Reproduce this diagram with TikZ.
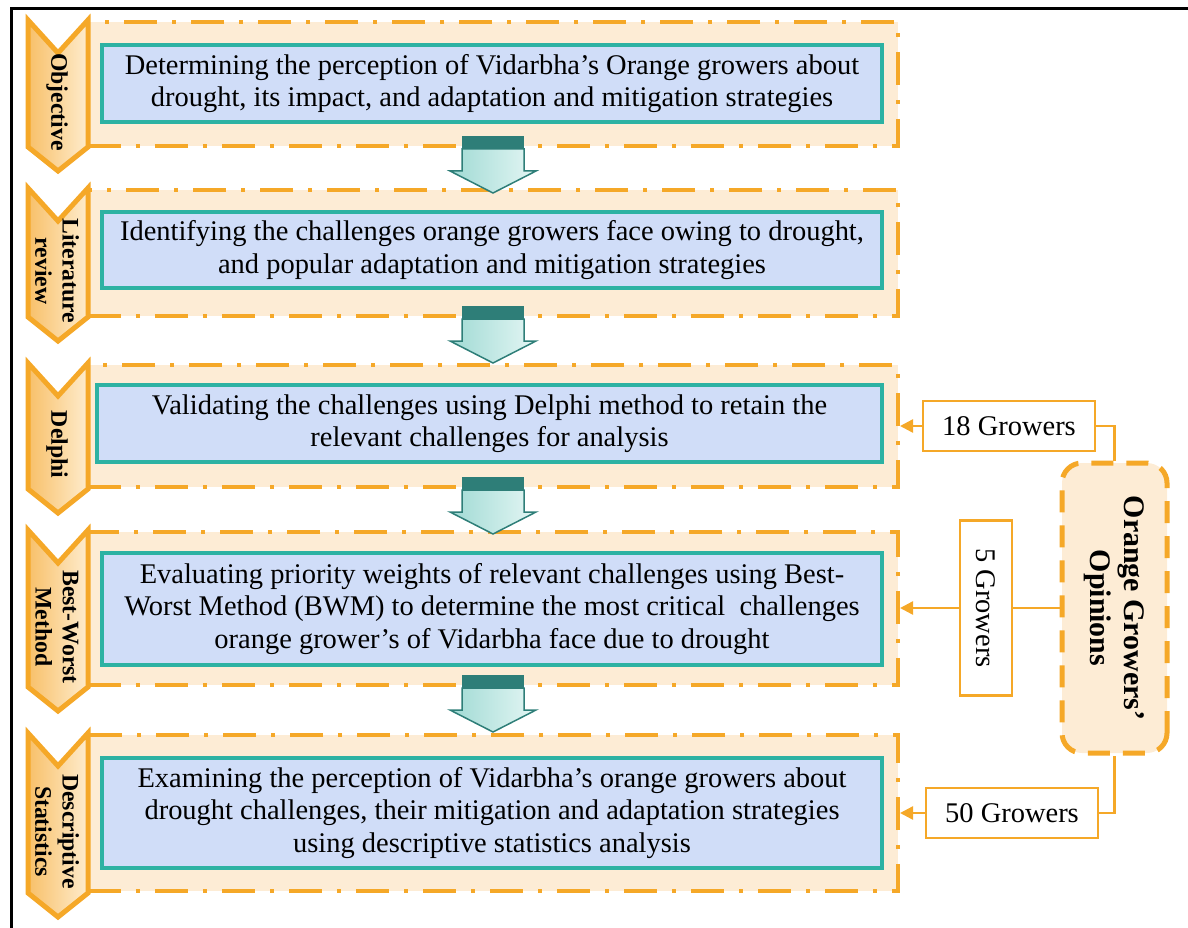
\documentclass[tikz,border=0pt]{standalone}
\usepackage{fontspec}
\setmainfont{Liberation Serif}
\usetikzlibrary{arrows.meta,calc,positioning}

\definecolor{orngline}{RGB}{245,168,40}
\definecolor{bandfill}{RGB}{253,236,213}
\definecolor{taskfill}{RGB}{208,221,248}
\definecolor{tealline}{RGB}{45,178,163}
\definecolor{tealdark}{RGB}{46,126,120}
\definecolor{teallight}{RGB}{160,218,212}
\definecolor{tealpale}{RGB}{228,246,244}
\definecolor{chevdark}{RGB}{248,192,105}
\definecolor{chevlight}{RGB}{254,236,205}

\begin{document}
\begin{tikzpicture}[x=0.2mm,y=-0.2mm,
    band/.style={draw=orngline,line width=0.8mm,dash pattern=on 6.6mm off 3mm on 0.8mm off 3mm,fill=bandfill},
    taskbox/.style={draw=tealline,line width=0.9mm,fill=taskfill,align=center,inner sep=1mm,
      minimum width=156mm,font=\fontsize{16.2}{18.4}\selectfont},
    stagetag/.style={draw=orngline,line width=1mm,line join=miter,left color=chevdark,right color=chevlight},
    taglabel/.style={rotate=-90,align=center,font=\bfseries\fontsize{13.5}{15.5}\selectfont},
    downbody/.style={draw=tealdark,line width=0.3mm,left color=teallight,right color=tealpale},
    downtop/.style={fill=tealdark},
    grower/.style={draw=orngline,line width=0.45mm,fill=white,inner sep=0,font=\fontsize{16.2}{18}\selectfont},
    opbox/.style={draw=orngline,line width=1mm,dash pattern=on 4.4mm off 2.6mm,fill=bandfill,
      rounded corners=4mm,rotate=-90,align=center,font=\bfseries\fontsize{17}{19.5}\selectfont},
    link/.style={draw=orngline,line width=0.5mm},
    feed/.style={link,-{Triangle[length=2.6mm,width=2.6mm]}}]
  \useasboundingbox (0,0) rectangle (1188,928);
  % ramme
  \draw[line width=0.6mm] (11,928) -- (11,9) -- (1188,9);

  % baand for hvert trin
  \node[band,minimum width=162mm,minimum height=24.8mm] (b1) at (493,84) {};
  \node[band,minimum width=162mm,minimum height=25.2mm] (b2) at (493,253) {};
  \node[band,minimum width=162mm,minimum height=24.4mm] (b3) at (493,426) {};
  \node[band,minimum width=162mm,minimum height=30.6mm] (b4) at (493,608.5) {};
  \node[band,minimum width=162mm,minimum height=31.2mm] (b5) at (493,813) {};

  % maerkater til venstre
  \foreach \i/\ya/\yb/\txt in {1/20/147/Objective, 2/188/317/{Literature\\review}, 3/363/489/Delphi,
      4/530/687/{Best-Worst\\Method}, 5/733/893/{Descriptive\\Statistics}}{
    \draw[stagetag] (28,\ya) -- (58,{\ya+33}) -- (88,\ya) -- (88,\yb) -- (58,{\yb+24}) -- (28,\yb) -- cycle;
    \node[taglabel] (tag\i) at (57,{(\ya+33+\yb)/2+2}) {\txt};
  }

  % trinene
  \node[taskbox,minimum height=15.4mm] (t1) at (492,83.5)
    {Determining the perception of Vidarbha’s Orange growers about\\drought, its impact, and adaptation and mitigation strategies};
  \node[taskbox,minimum height=15.2mm] (t2) at (492,250)
    {Identifying the challenges orange growers face owing to drought,\\and popular adaptation and mitigation strategies};
  \node[taskbox,minimum height=15.4mm,minimum width=157mm] (t3) at (489.5,423.5)
    {Validating the challenges using Delphi method to retain the\\relevant challenges for analysis};
  \node[taskbox,minimum height=22.4mm] (t4) at (492,609)
    {Evaluating priority weights of relevant challenges using Best-\\Worst Method (BWM) to determine the most critical\ \ challenges\\orange grower’s of Vidarbha face due to drought};
  \node[taskbox,minimum height=22mm] (t5) at (492,813)
    {Examining the perception of Vidarbha’s orange growers about\\drought challenges, their mitigation and adaptation strategies\\using descriptive statistics analysis};

  % blokpile mellem trinene
  \foreach \i in {1,2,3,4}{
    \begin{scope}[shift={($(b\i.south)+(0,-12)$)}]
      \draw[downbody] (-31,13) -- (31,13) -- (31,35) -- (43,35) -- (0,57) -- (-43,35) -- (-31,35) -- cycle;
      \fill[downtop] (-31,0) rectangle (31,13);
    \end{scope}
  }

  % dyrkernes meninger
  \node[opbox,minimum width=58mm,minimum height=21mm] (op) at (1114.5,608) {Orange Growers’\\Opinions};
  \node[grower,minimum width=34.4mm,minimum height=10mm] (n18) at (1009,426) {18 Growers};
  \node[grower,rotate=-90,minimum width=35mm,minimum height=10.4mm] (n5) at (986,608) {5 Growers};
  \node[grower,minimum width=34.4mm,minimum height=10mm] (n50) at (1012,813) {50 Growers};

  \draw[feed] (n18) -- (n18 -| b3.east);
  \draw[link] (n18.east) -| (op);
  \draw[feed] (n5) -- (n5 -| b4.east);
  \draw[link] (n5) -- (op);
  \draw[feed] (n50) -- (n50 -| b5.east);
  \draw[link] (n50.east) -| (op);
\end{tikzpicture}
\end{document}
